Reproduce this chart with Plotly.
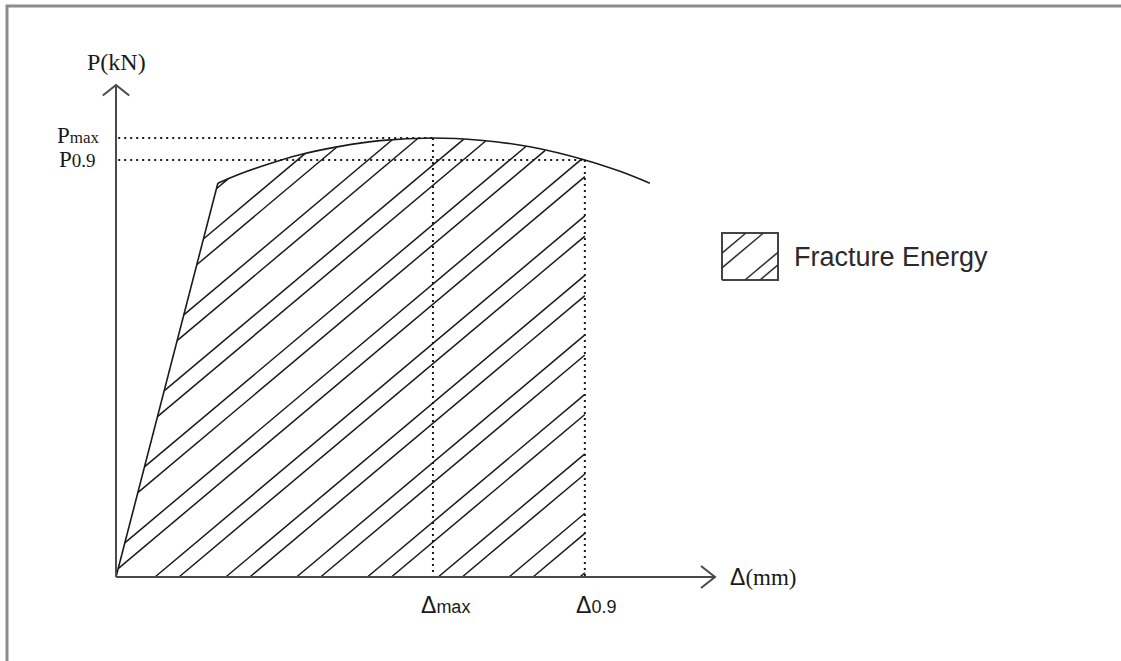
import numpy as np
import plotly.graph_objects as go

# ---------------- data (schematic load-displacement curve) ----------------
DELTA = [0.0, 2.32, 2.82, 3.51, 4.19, 5.10, 6.01, 7.22, 8.29, 9.43, 10.68, 11.48, 12.16]
LOAD = [0.0, 8.97, 9.18, 9.42, 9.62, 9.81, 9.94, 10.00, 9.95, 9.80, 9.50, 9.24, 8.97]
ELASTIC_END = 1          # index where the linear (elastic) branch ends
D_MAX, P_MAX = 7.22, 10.00
D_09, P_09 = 10.68, 9.50

# axis labels / tick texts
Y_LABEL = "P(kN)"
X_LABEL = "Δ<span style='font-family:Liberation Serif'>(mm)</span>"
P_MAX_LABEL = "P<span style='font-size:17px'>max</span>"
P_09_LABEL = "P<span style='font-size:19px'>0.9</span>"
D_MAX_LABEL = "Δ<span style='font-size:18px'>max</span>"
D_09_LABEL = "Δ<span style='font-size:18px'>0.9</span>"
LEGEND_TEXT = "Fracture Energy"

# ---------------- style / layout constants ----------------
W, H = 1121, 661
PX = 43.9                      # pixels per data unit
ORIGIN_PX = (116, 577)
X_END = (715 - 116) / PX       # axis arrow tips
Y_END = (577 - 85) / PX
ARM_L, ARM_W = 14 / PX, 11 / PX

HATCH_SLOPE = 0.84
HATCH_PERIOD = 70.8 / PX
HATCH_PAIR = 24 / PX
HATCH_BASE = (155 - 116) / PX

LEG_X0, LEG_X1 = (722 - 116) / PX, (778 - 116) / PX
LEG_Y0, LEG_Y1 = (577 - 280) / PX, (577 - 233) / PX
LEG_HATCH = [-32 / PX, -14.5 / PX, 23 / PX, 38 / PX]

AXIS_COLOR = "#4a4a4a"
INK = "#1a1a1a"
SERIF = "Liberation Serif"
SANS = "Liberation Sans"

fig = go.Figure()

# ---------------- hatching of the fracture-energy area ----------------
grid = np.linspace(0.0, D_09, 60001)
upper = np.interp(grid, DELTA, LOAD)
hx, hy = [], []
for k in range(-12, 12):
    for off in (0.0, HATCH_PAIR):
        x0 = HATCH_BASE + k * HATCH_PERIOD + off
        yl = HATCH_SLOPE * (grid - x0)
        ok = (grid >= x0) & (yl <= upper) & (yl >= 0)
        if ok.sum() < 2:
            continue
        idx = np.nonzero(ok)[0]
        xa, xb = grid[idx[0]], grid[idx[-1]]
        hx += [xa, xb, None]
        hy += [HATCH_SLOPE * (xa - x0), HATCH_SLOPE * (xb - x0), None]
fig.add_trace(go.Scatter(x=hx, y=hy, mode="lines",
                         line=dict(color=INK, width=1.5), hoverinfo="skip"))

# ---------------- dotted reference lines ----------------
dot = dict(color=INK, width=2, dash="2px,4px")
fig.add_trace(go.Scatter(x=[0.05, D_MAX, None, 0.05, D_09],
                         y=[P_MAX, P_MAX, None, P_09, P_09],
                         mode="lines", line=dot, hoverinfo="skip"))
fig.add_trace(go.Scatter(x=[D_MAX, D_MAX, None, D_09, D_09],
                         y=[P_MAX, 0, None, P_09, 0],
                         mode="lines", line=dot, hoverinfo="skip"))

# ---------------- load-displacement curve ----------------
fig.add_trace(go.Scatter(x=DELTA[:ELASTIC_END + 1], y=LOAD[:ELASTIC_END + 1],
                         mode="lines", line=dict(color=INK, width=1.6),
                         hoverinfo="skip"))
fig.add_trace(go.Scatter(x=DELTA[ELASTIC_END:], y=LOAD[ELASTIC_END:],
                         mode="lines", line=dict(color=INK, width=1.6, shape="spline"),
                         hoverinfo="skip"))

# ---------------- axes with open arrow heads ----------------
ax_line = dict(color=AXIS_COLOR, width=2)
fig.add_trace(go.Scatter(
    x=[0, X_END, None, X_END - ARM_L, X_END, X_END - ARM_L, None,
       0, 0, None, -ARM_W * 1.2, 0, ARM_W * 1.2],
    y=[0, 0, None, ARM_W, 0, -ARM_W, None,
       0, Y_END, None, Y_END - ARM_L * 0.75, Y_END, Y_END - ARM_L * 0.75],
    mode="lines", line=ax_line, hoverinfo="skip"))

# ---------------- legend symbol ----------------
fig.add_trace(go.Scatter(x=[LEG_X0, LEG_X1, LEG_X1, LEG_X0, LEG_X0],
                         y=[LEG_Y0, LEG_Y0, LEG_Y1, LEG_Y1, LEG_Y0],
                         mode="lines", line=dict(color="#444", width=2),
                         hoverinfo="skip"))
bw, bh = LEG_X1 - LEG_X0, LEG_Y1 - LEG_Y0
lx, ly = [], []
for x0 in LEG_HATCH:
    xa = max(0.0, x0)
    xb = min(bw, x0 + bh / HATCH_SLOPE)
    lx += [LEG_X0 + xa, LEG_X0 + xb, None]
    ly += [LEG_Y0 + HATCH_SLOPE * (xa - x0), LEG_Y0 + HATCH_SLOPE * (xb - x0), None]
fig.add_trace(go.Scatter(x=lx, y=ly, mode="lines",
                         line=dict(color="#333", width=1.6), hoverinfo="skip"))

# ---------------- text ----------------
def ann(x, y, text, family, size, xanchor="center", yshift=0, color=INK):
    fig.add_annotation(x=x, y=y, xref="x", yref="y", text=text, showarrow=False,
                       xanchor=xanchor, yanchor="middle", yshift=yshift,
                       font=dict(family=family, size=size, color=color))

ann(0, Y_END + 23 / PX, Y_LABEL, SERIF, 24)
ann(-14 / PX, P_MAX, P_MAX_LABEL, SERIF, 23, "right", 3)
ann(-18 / PX, P_09, P_09_LABEL, SERIF, 23, "right")
ann(X_END + 13 / PX, 0, X_LABEL, SANS, 23, "left")
ann(D_MAX - 14 / PX, -28 / PX, D_MAX_LABEL, SANS, 23, "left")
ann(D_09 - 11 / PX, -28 / PX, D_09_LABEL, SANS, 23, "left")
ann(LEG_X1 + 14 / PX, (LEG_Y0 + LEG_Y1) / 2, LEGEND_TEXT, SANS, 27, "left", 0, "#2a2a2a")

# ---------------- outer frame (top and left edges visible) ----------------
fig.add_shape(type="rect", xref="paper", yref="paper",
              x0=7 / W, x1=1 + 20 / W, y0=-20 / H, y1=1 - 6 / H,
              line=dict(color="#8c8c8c", width=3))

fig.update_layout(
    width=W, height=H, autosize=False,
    margin=dict(l=0, r=0, t=0, b=0, pad=0),
    paper_bgcolor="white", plot_bgcolor="white",
    showlegend=False,
    xaxis=dict(range=[-ORIGIN_PX[0] / PX, (W - ORIGIN_PX[0]) / PX],
               visible=False, fixedrange=True),
    yaxis=dict(range=[-(H - ORIGIN_PX[1]) / PX, ORIGIN_PX[1] / PX],
               visible=False, fixedrange=True),
)

fig.write_html("out.html", config={"displayModeBar": False},
               post_script="document.body.style.margin='0';document.body.style.overflow='hidden';window.dispatchEvent(new Event('resize'));")
